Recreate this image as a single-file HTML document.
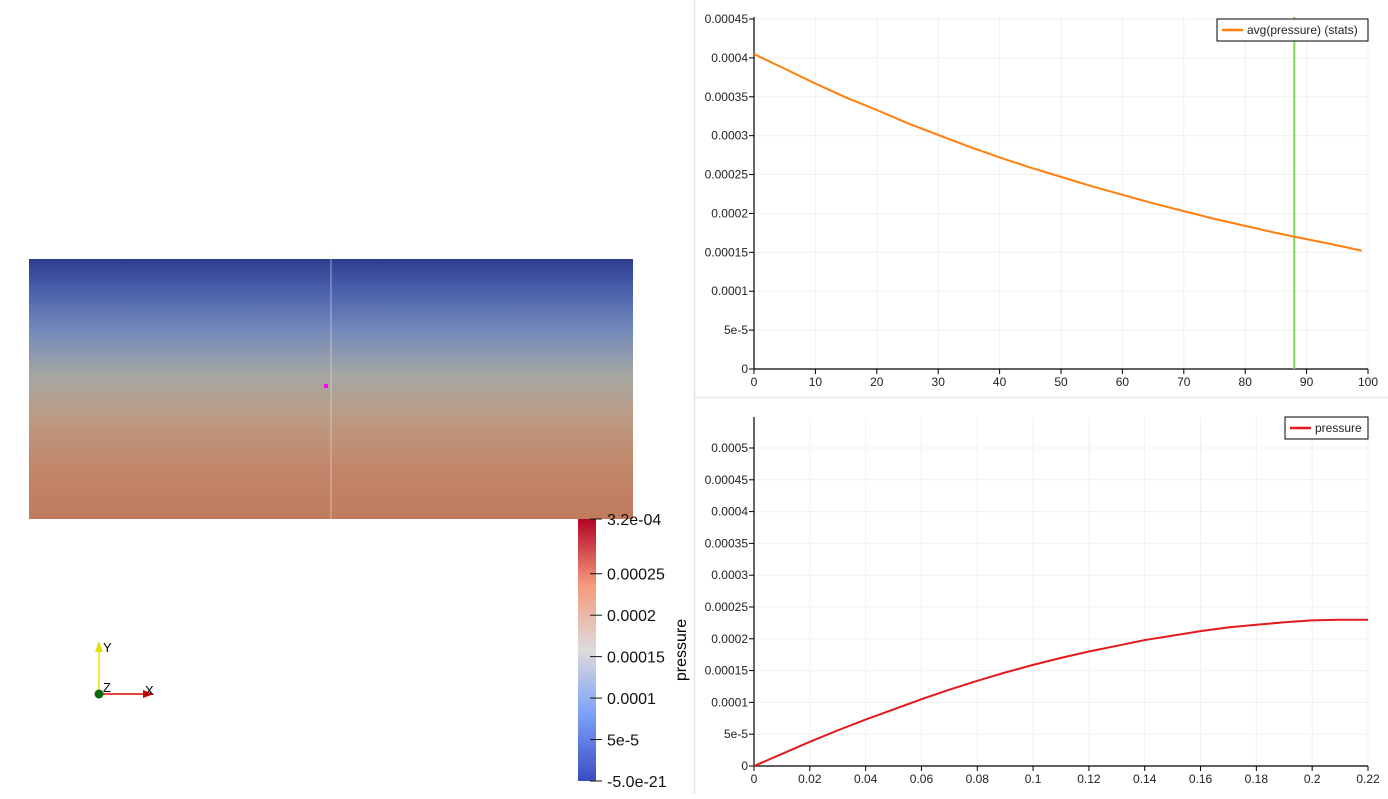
<!DOCTYPE html>
<html><head><meta charset="utf-8"><style>
body{margin:0;background:#fff;width:1388px;height:794px;overflow:hidden;font-family:"Liberation Sans",sans-serif}
svg text{font-family:"Liberation Sans",sans-serif}
</style></head><body>
<svg width="1388" height="794" viewBox="0 0 1388 794" xmlns="http://www.w3.org/2000/svg">
<defs>
<linearGradient id="field" x1="0" y1="0" x2="0" y2="1">
<stop offset="0" stop-color="#2e3d8e"/><stop offset="0.12" stop-color="#4a61ac"/><stop offset="0.27" stop-color="#7288bb"/><stop offset="0.45" stop-color="#a6a7a3"/><stop offset="0.62" stop-color="#bd9a82"/><stop offset="0.8" stop-color="#c2866a"/><stop offset="1" stop-color="#c07b5e"/>
</linearGradient>
<linearGradient id="cbar" x1="0" y1="1" x2="0" y2="0">
<stop offset="0" stop-color="#3b4cc0"/><stop offset="0.25" stop-color="#7b9ff9"/><stop offset="0.5" stop-color="#dddcdc"/><stop offset="0.75" stop-color="#f49a7b"/><stop offset="1" stop-color="#b40426"/>
</linearGradient>
</defs>
<g>
<rect x="29" y="259" width="604" height="260" fill="url(#field)"/>
<line x1="331" y1="255" x2="331" y2="519" stroke="#e8e0e0" stroke-opacity="0.6" stroke-width="1"/>
<rect x="324" y="384" width="4" height="4" fill="#ff00ff"/>
<g>
<rect x="578" y="519" width="18" height="262" fill="url(#cbar)"/>
<g font-size="16" fill="#111" id="cbticks"></g>
<text x="686" y="650" font-size="16" transform="rotate(-90 686 650)" text-anchor="middle">pressure</text>
</g>
<g>
<line x1="99" y1="694" x2="99" y2="646" stroke="#e6e600" stroke-width="1.5"/>
<polygon points="95,652 103,652 99,641" fill="#e0e000"/>
<text x="103" y="652" font-size="13">Y</text>
<line x1="99" y1="694" x2="146" y2="694" stroke="#e00000" stroke-width="1.5"/>
<polygon points="143,690 143,698 154,694" fill="#d00000"/>
<text x="145" y="695" font-size="13">X</text>
<circle cx="99" cy="694" r="4.5" fill="#0a6a0a"/>
<text x="103" y="692" font-size="13">Z</text>
</g>
</g>
<line x1="694.5" y1="0" x2="694.5" y2="794" stroke="#e6e6e6" stroke-width="1.5"/>
<line x1="695" y1="397.5" x2="1388" y2="397.5" stroke="#e6e6e6" stroke-width="1.5"/>
<g id="top"></g>
<g id="bot"></g>
</svg>
<script>
const topX=[0,5,10,15,20,25,30,35,40,45,50,55,60,65,70,75,80,85,88,90,95,99];
const topY=[0.000405,0.000386,0.000367,0.000349,0.000333,0.000316,0.000301,0.000286,0.000272,0.000259,0.000247,0.000235,0.000224,0.000213,0.000203,0.000193,0.000184,0.000175,0.000170,0.000167,0.000159,0.000152];
const topXTicks=[0,10,20,30,40,50,60,70,80,90,100];
const topYTicks=[0,0.00005,0.0001,0.00015,0.0002,0.00025,0.0003,0.00035,0.0004,0.00045];
const topYLabels=["0","5e-5","0.0001","0.00015","0.0002","0.00025","0.0003","0.00035","0.0004","0.00045"];
const cursorX=88;
const botX=[0,0.01,0.02,0.03,0.04,0.05,0.06,0.07,0.08,0.09,0.1,0.11,0.12,0.13,0.14,0.15,0.16,0.17,0.18,0.19,0.2,0.21,0.22];
const botY=[0,0.000019,0.000038,0.000056,0.000073,0.000089,0.000105,0.00012,0.000134,0.000147,0.000159,0.00017,0.00018,0.000189,0.000198,0.000205,0.000212,0.000218,0.000222,0.000226,0.000229,0.00023,0.00023];
const botXTicks=[0,0.02,0.04,0.06,0.08,0.1,0.12,0.14,0.16,0.18,0.2,0.22];
const botYTicks=[0,0.00005,0.0001,0.00015,0.0002,0.00025,0.0003,0.00035,0.0004,0.00045,0.0005];
const botYLabels=["0","5e-5","0.0001","0.00015","0.0002","0.00025","0.0003","0.00035","0.0004","0.00045","0.0005"];
const cbTicks=[0.000316,0.00025,0.0002,0.00015,0.0001,0.00005,0];
const cbLabels=["3.2e-04","0.00025","0.0002","0.00015","0.0001","5e-5","-5.0e-21"];
const NS="http://www.w3.org/2000/svg";
function mk(p,t,a){const e=document.createElementNS(NS,t);for(const k in a)e.setAttribute(k,a[k]);p.appendChild(e);return e;}
function chart(g,o){
 const sx=v=>o.x0+(v-o.xmin)/(o.xmax-o.xmin)*(o.x1-o.x0);
 const sy=v=>o.y0-(v-o.ymin)/(o.ymax-o.ymin)*(o.y0-o.y1v);
 o.xt.forEach((t,i)=>{const X=sx(t);
  const gl=mk(g,'line',{x1:X,y1:o.top,x2:X,y2:o.y0,stroke:'#f0f0f0'});
  
  mk(g,'line',{x1:X,y1:o.y0,x2:X,y2:o.y0+5,stroke:'#000'});
  const tx=mk(g,'text',{x:X,y:o.y0+17,'font-size':12,'text-anchor':'middle',fill:'#222'});tx.textContent=String(t);
  });
 o.yt.forEach((t,i)=>{const Y=sy(t);
  const gl=mk(g,'line',{x1:o.x0,y1:Y,x2:o.x1,y2:Y,stroke:'#f0f0f0'});
  
  mk(g,'line',{x1:o.x0-5,y1:Y,x2:o.x0,y2:Y,stroke:'#000'});
  const tx=mk(g,'text',{x:o.x0-6,y:Y+4,'font-size':12,'text-anchor':'end',fill:'#222'});tx.textContent=o.yl[i];
  });
 const ax=mk(g,'path',{d:`M${o.x0},${o.top}V${o.y0}H${o.x1}`,stroke:'#000',fill:'none','stroke-width':1.2});
 
 if(o.cursor!==undefined){const c=mk(g,'line',{x1:sx(o.cursor),y1:o.top,x2:sx(o.cursor),y2:o.y0,stroke:'#7ed957','stroke-width':2});
  }
 const ln=mk(g,'polyline',{points:o.xs.map((x,i)=>sx(x)+','+sy(o.ys[i])).join(' '),fill:'none',stroke:o.color,'stroke-width':2});
 
 const lg=mk(g,'g',{});
 mk(lg,'rect',{x:o.lx,y:o.ly,width:o.lw,height:22,fill:'#fff',stroke:'#000'});
 mk(lg,'line',{x1:o.lx+5,y1:o.ly+11,x2:o.lx+26,y2:o.ly+11,stroke:o.color,'stroke-width':2.5});
 const lt=mk(lg,'text',{x:o.lx+30,y:o.ly+15,'font-size':12,fill:'#222'});lt.textContent=o.label;
}
chart(document.getElementById('top'),{x0:754,x1:1368,y0:369,y1v:19,top:17,xmin:0,xmax:100,ymin:0,ymax:0.00045,xt:topXTicks,yt:topYTicks,yl:topYLabels,xs:topX,ys:topY,color:'#ff7f0e',cursor:cursorX,lx:1217,ly:19,lw:151,label:'avg(pressure) (stats)'});
chart(document.getElementById('bot'),{x0:754,x1:1368,y0:766,y1v:448,top:417,xmin:0,xmax:0.22,ymin:0,ymax:0.0005,xt:botXTicks,yt:botYTicks,yl:botYLabels,xs:botX,ys:botY,color:'#e31a1c',lx:1285,ly:417,lw:83,label:'pressure'});
const cb=document.getElementById('cbticks');
cbTicks.forEach((t,i)=>{const Y=781-(t/0.000316)*262;
 mk(cb,'line',{x1:590,y1:Y,x2:602,y2:Y,stroke:'#111'});
 const tx=mk(cb,'text',{x:607,y:Y+6});tx.textContent=cbLabels[i];
 });
</script>
</body></html>
